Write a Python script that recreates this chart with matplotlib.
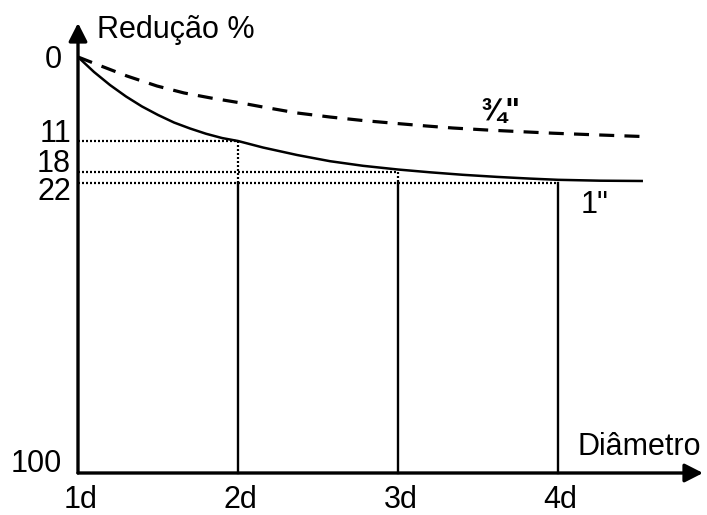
import numpy as np
import matplotlib
matplotlib.use("Agg")
import matplotlib.pyplot as plt

plt.rcParams['font.family'] = ['Liberation Sans', 'DejaVu Sans']

# ---------------- data ----------------
x_ticks = [1, 2, 3, 4]
x_tick_labels = ["1d", "2d", "3d", "4d"]
y_ticks = [0, 11, 18, 22, 100]
y_tick_labels = ["0", "11", "18", "22", "100"]

# 1" curve (solid)
one_x = [1.0, 1.1, 1.2, 1.3, 1.4, 1.5, 1.6, 1.7, 1.8, 1.9, 2.0, 2.156, 2.369, 2.575,
         2.781, 3.0, 3.2, 3.406, 3.619, 3.825, 4.0, 4.263, 4.531]
one_y = [0.0, 1.96, 3.67, 5.17, 6.48, 7.59, 8.58, 9.36, 10.05, 10.61, 11.0, 12.47, 14.16, 15.56,
         16.60, 17.44, 18.11, 19.02, 19.78, 20.40, 20.84, 21.16, 21.27]

# 3/4" curve (dashed)
tq_x = [1.0, 1.144, 1.306, 1.494, 1.663, 1.831, 2.019, 2.156, 2.369, 2.575, 2.781, 2.994,
        3.181, 3.344, 3.556, 3.769, 3.969, 4.181, 4.388, 4.525]
tq_y = [0.0, 1.18, 2.49, 3.80, 4.71, 5.37, 6.02, 6.55, 7.33, 7.86, 8.32, 8.71,
        9.04, 9.30, 9.56, 9.78, 9.98, 10.15, 10.31, 10.41]

# reference markers
mark_x = [2, 3, 4]
mark_y = [11, 18, 22]

# -------------- scale (schematic, non-linear y) --------------
scale_vals = [0, 11, 18, 22, 100]
scale_pos = [0, 84, 115, 126, 416]

def fwd(v):
    return np.interp(v, scale_vals, scale_pos)

def inv(p):
    return np.interp(p, scale_pos, scale_vals)

W, H = 707, 515
fig = plt.figure(figsize=(W / 100, H / 100), dpi=100)
ax = fig.add_axes([78 / W, (H - 473) / H, (703 - 78) / W, (473 - 57) / H])
ax.set_yscale('function', functions=(fwd, inv))
ax.set_xlim(1, 1 + (703 - 78) / 160)
ax.set_ylim(100, 0)
for s in ax.spines.values():
    s.set_visible(False)
ax.set_xticks([])
ax.set_yticks([])
ax.minorticks_off()

# axes with arrows
arrow = dict(arrowstyle='-|>,head_length=0.55,head_width=0.28', lw=2.4, color='black',
             shrinkA=0, shrinkB=0, mutation_scale=20)
ax.annotate('', xy=(0, 1 + 34 / 416), xytext=(0, 0), xycoords='axes fraction',
            textcoords='axes fraction', arrowprops=arrow, annotation_clip=False)
ax.annotate('', xy=(1, 0), xytext=(0, 0), xycoords='axes fraction',
            textcoords='axes fraction', arrowprops=arrow, annotation_clip=False)

# curves
ax.plot(one_x, one_y, color='black', lw=1.8, clip_on=False, solid_capstyle='butt',
        solid_joinstyle='round')
ax.plot(tq_x, tq_y, color='black', lw=2.3, linestyle=(0, (4.7, 3.2)), clip_on=False)

# guide lines
dotted = (0, (0.9, 0.9))
ymax_mark = max(mark_y)
for mx, my in zip(mark_x, mark_y):
    ax.plot([x_ticks[0], mx], [my, my], color='black', lw=1.6, linestyle=dotted, clip_on=False)
    if my < ymax_mark:
        ax.plot([mx, mx], [my, ymax_mark], color='black', lw=1.6, linestyle=dotted, clip_on=False)
    ax.plot([mx, mx], [ymax_mark, 100], color='black', lw=1.7, clip_on=False)

# tick labels
fs = 22
ylab_off = [(-16, -11), (-7, -1), (-7, 0), (-7, -17), (-16, 1)]
for v, lab, (dx, dy) in zip(y_ticks, y_tick_labels, ylab_off):
    ax.annotate(lab, xy=(x_ticks[0], v), xytext=(dx, dy), textcoords='offset pixels',
                ha='right', va='baseline', fontsize=fs, annotation_clip=False)
xlab_off = [(3, -35), (2, -35), (3, -35), (2, -35)]
for xv, lab, (dx, dy) in zip(x_ticks, x_tick_labels, xlab_off):
    ax.annotate(lab, xy=(xv, 100), xytext=(dx, dy), textcoords='offset pixels',
                ha='center', va='baseline', fontsize=fs, annotation_clip=False)

# axis titles
ax.text((97 - 78) / 625, (473 - 38) / 416, "Redução %", transform=ax.transAxes,
        ha='left', va='baseline', fontsize=fs, clip_on=False)
ax.text((578 - 78) / 625, (473 - 455) / 416, "Diâmetro", transform=ax.transAxes,
        ha='left', va='baseline', fontsize=fs, clip_on=False)

# curve labels
ax.text(3.64, 8.2, "¾\"", ha='center', va='baseline', fontsize=22, fontweight='bold')
ax.text(4.14, 30.2, "1\"", ha='left', va='baseline', fontsize=22)

fig.savefig("out.png", dpi=100)
